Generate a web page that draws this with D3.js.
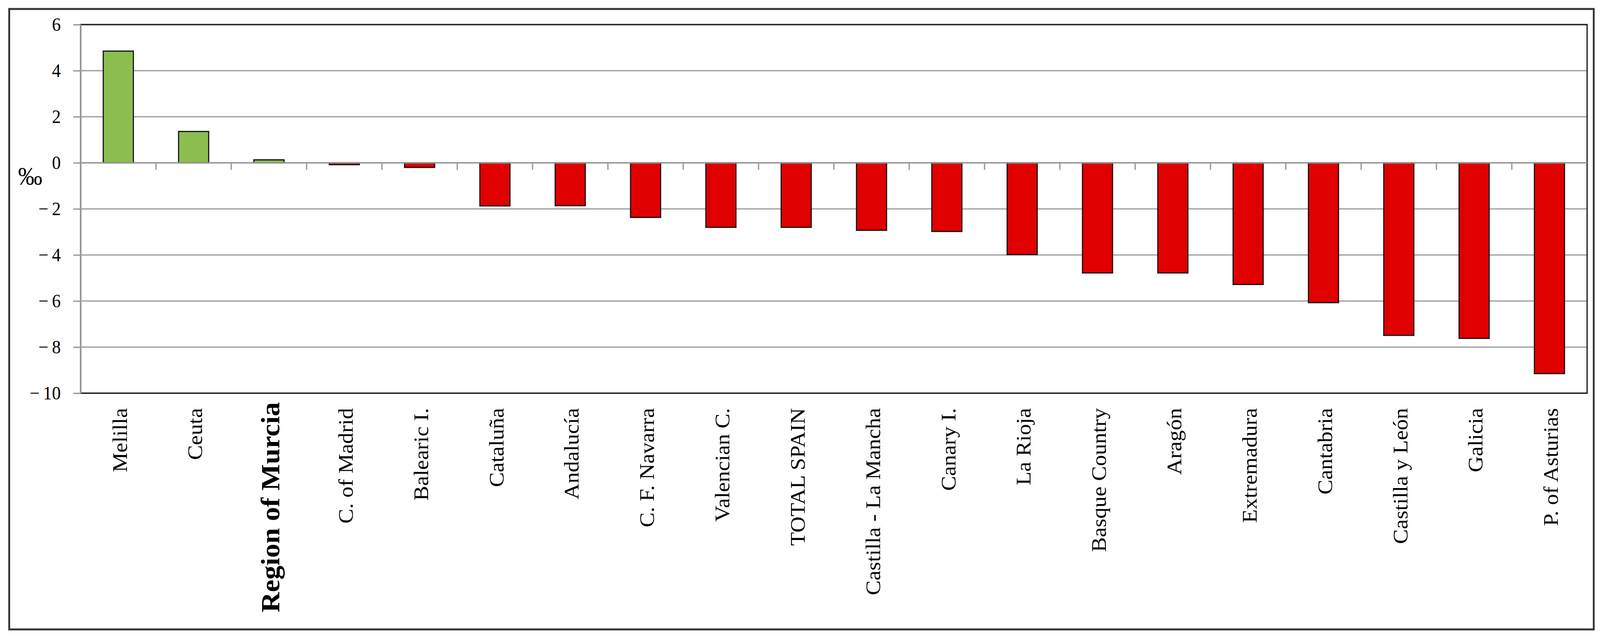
<!DOCTYPE html>
<html lang="en">
<head>
<meta charset="UTF-8">
<title>Natural growth by region (‰)</title>
<script src="https://d3js.org/d3.v7.min.js"></script>
<style>
  html, body { margin: 0; padding: 0; background: #fff; overflow: hidden; }
  svg { display: block; width: 100vw; height: 100vh; }
  text { font-family: "Liberation Serif", "DejaVu Serif", serif; fill: #000; }
  .grid line { stroke: #a6a6a6; stroke-width: 3.5; }
  .axis path, .axis line { stroke: #9a9a9a; stroke-width: 3.5; }
  .axis text { font-size: 48px; }
  .cat-label { font-size: 57px; }
  .cat-label.bold { font-size: 72px; font-weight: bold; }
</style>
</head>
<body>
<script>
  // regions, sorted as in the figure
  var regions = ["Melilla", "Ceuta", "Region of Murcia", "C. of Madrid", "Balearic I.",
    "Cataluña", "Andalucía", "C. F. Navarra", "Valencian C.", "TOTAL SPAIN",
    "Castilla - La Mancha", "Canary I.", "La Rioja", "Basque Country", "Aragón",
    "Extremadura", "Cantabria", "Castilla y León", "Galicia", "P. of Asturias"];

  // values in per mille
  var values = [4.85, 1.36, 0.13, -0.08, -0.2,
    -1.87, -1.86, -2.37, -2.8, -2.8,
    -2.93, -2.98, -3.98, -4.78, -4.78,
    -5.28, -6.07, -7.49, -7.62, -9.15];

  var yTicks = [6, 4, 2, 0, -2, -4, -6, -8, -10];
  var highlight = "Region of Murcia";

  var W = 4345, H = 1634;
  var plot = {left: 219, right: 4310, top: 63, bottom: 1007};

  // viewBox stretched over the whole window
  var svg = d3.select("body").append("svg")
      .attr("viewBox", "0 0 " + W + " " + H)
      .attr("preserveAspectRatio", "none");

  // outer frame
  svg.append("rect")
      .attr("x", 25).attr("y", 23)
      .attr("width", 4328 - 25).attr("height", 1612 - 23)
      .attr("fill", "#fff")
      .attr("stroke", "#333").attr("stroke-width", 5);

  var slot = d3.scaleBand().domain(regions).range([plot.left, plot.right]).padding(0);
  var x = d3.scaleBand().domain(regions).range([plot.left, plot.right])
      .paddingInner(0.6).paddingOuter(0.3);
  var y = d3.scaleLinear().domain([-10, 6]).range([plot.bottom, plot.top]);

  // horizontal gridlines
  svg.append("g")
      .attr("class", "grid")
    .selectAll("line")
    .data(yTicks)
    .enter().append("line")
      .attr("x1", plot.left).attr("x2", plot.right)
      .attr("y1", d => y(d)).attr("y2", d => y(d));

  // plot area border
  svg.append("rect")
      .attr("x", plot.left).attr("y", plot.top)
      .attr("width", plot.right - plot.left).attr("height", plot.bottom - plot.top)
      .attr("fill", "none")
      .attr("stroke", "#222").attr("stroke-width", 3.5);

  // value axis
  svg.append("g")
      .attr("class", "axis")
      .attr("transform", "translate(" + plot.left + ",0)")
      .call(d3.axisLeft(y)
        .tickValues(yTicks)
        .tickSize(20)
        .tickPadding(34)
        .tickSizeOuter(0)
        .tickFormat(d => d < 0 ? "\u2212\u2009" + Math.abs(d) : d));

  // bars
  svg.append("g")
    .selectAll("rect")
    .data(regions)
    .enter().append("rect")
      .attr("x", d => x(d))
      .attr("width", x.bandwidth())
      .attr("y", (d, i) => y(Math.max(0, values[i])))
      .attr("height", (d, i) => Math.abs(y(values[i]) - y(0)))
      .attr("fill", (d, i) => values[i] >= 0 ? "#8cbd4f" : "#e00000")
      .attr("stroke", "#111")
      .attr("stroke-width", 3);

  // category axis along zero, ticks between categories
  var catAxis = svg.append("g").attr("class", "axis");
  catAxis.append("line")
      .attr("x1", plot.left).attr("x2", plot.right)
      .attr("y1", y(0)).attr("y2", y(0));
  catAxis.selectAll(".tick")
    .data(regions.slice(1))
    .enter().append("line")
      .attr("class", "tick")
      .attr("x1", d => slot(d)).attr("x2", d => slot(d))
      .attr("y1", y(0)).attr("y2", y(0) + 18);

  // rotated category labels under the plot
  svg.append("g")
    .selectAll("text")
    .data(regions)
    .enter().append("text")
      .attr("class", d => d === highlight ? "cat-label bold" : "cat-label")
      .attr("text-anchor", "end")
      .attr("dy", "0.35em")
      .attr("transform", d => "translate(" + (slot(d) + slot.bandwidth() / 2 + 3) + "," +
        (d === highlight ? 1030 : 1045) + ") rotate(-90)")
      .text(d => d);

  // unit label
  svg.append("text")
      .attr("x", 82).attr("y", 473)
      .attr("text-anchor", "middle")
      .style("font-size", "66px")
      .text("‰");
</script>
</body>
</html>
